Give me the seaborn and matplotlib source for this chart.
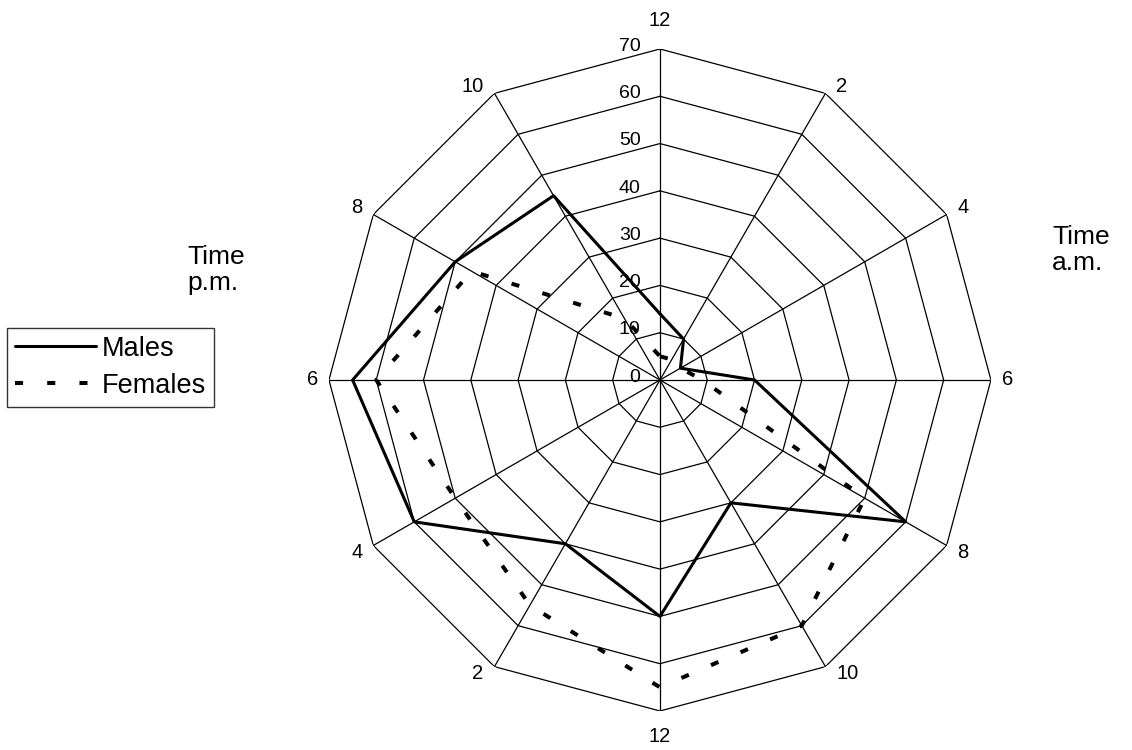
import numpy as np
import pandas as pd
import seaborn as sns
import matplotlib.pyplot as plt

# hour of day, clockwise from midnight at the top
hours = ["12", "2", "4", "6", "8", "10", "12", "2", "4", "6", "8", "10"]
males = [14, 10, 5, 20, 60, 30, 50, 40, 60, 65, 50, 45]
females = [5, 5, 5, 9, 50, 60, 65, 55, 50, 60, 46, 15]
rings = [0, 10, 20, 30, 40, 50, 60, 70]

sns.set_style("white")
plt.rcParams["font.family"] = ["Liberation Sans", "DejaVu Sans"]
plt.rcParams["text.color"] = "black"

theta = np.linspace(0, 2 * np.pi, len(hours), endpoint=False)
th_closed = np.append(theta, 2 * np.pi)
n = len(th_closed)

df = pd.DataFrame({
    "theta": np.concatenate([th_closed, th_closed]),
    "value": males + males[:1] + females + females[:1],
    "sex": ["Males"] * n + ["Females"] * n,
})

fig = plt.figure(figsize=(11.32, 7.5), dpi=100)
ax = fig.add_axes([0.2906, 0.052, 0.5848, 0.8827], projection="polar")
ax.set_theta_zero_location("N")
ax.set_theta_direction(-1)
ax.grid(False)
ax.spines["polar"].set_visible(False)
ax.set_xticks([])
ax.set_yticks([])

# spider web grid
for t in theta:
    ax.plot([t, t], [0, rings[-1]], color="black", lw=0.9)
for v in rings[1:]:
    ax.plot(th_closed, [v] * n, color="black", lw=0.9)

n_before = len(ax.lines)
sns.lineplot(data=df, x="theta", y="value", hue="sex", style="sex", size="sex",
             hue_order=["Males", "Females"],
             palette={"Males": "black", "Females": "black"},
             dashes={"Males": "", "Females": (2.0, 6.0)},
             sizes={"Males": 2.2, "Females": 2.9},
             sort=False, estimator=None, legend=False, ax=ax)
handles = ax.lines[n_before:]
ax.set_ylim(0, 70)
ax.set_xlabel("")
ax.set_ylabel("")

# ring values along the top spoke
for v in rings:
    ax.annotate(str(v), xy=(0, v), xytext=(-14, 2), textcoords="offset points",
                ha="right", va="center", fontsize=14)

# hour labels round the outside (offsets in px, converted to points)
px = 72 / 100
for t, lab in zip(theta, hours):
    s, c = np.sin(t), np.cos(t)
    if abs(s) < 0.01:
        xy_off, ha = (0, 28 if c > 0 else -26), "center"
    else:
        dy = 7 if c > 0.1 else (-7 if c < -0.1 else 0)
        xy_off, ha = (11 if s > 0 else -11, dy), ("left" if s > 0 else "right")
    ax.annotate(lab, xy=(t, rings[-1]), xytext=(xy_off[0] * px, xy_off[1] * px),
                textcoords="offset points", ha=ha, va="center", fontsize=14.5)

fig.text(187 / 1132, 1 - 270 / 750, "Time\np.m.", ha="left", va="center",
         fontsize=19, linespacing=1.15)
fig.text(1052 / 1132, 1 - 250 / 750, "Time\na.m.", ha="left", va="center",
         fontsize=19, linespacing=1.15)

leg = fig.legend(handles, ["Males", "Females"], loc="upper left",
                 bbox_to_anchor=(0.006, 0.563), frameon=True, fancybox=False,
                 edgecolor="black", fontsize=19.5, handlelength=3.0,
                 borderpad=0.3, labelspacing=0.4, handletextpad=0.2,
                 borderaxespad=0)
leg.get_frame().set_linewidth(1.0)

fig.savefig("out.png", dpi=100, facecolor="white")
